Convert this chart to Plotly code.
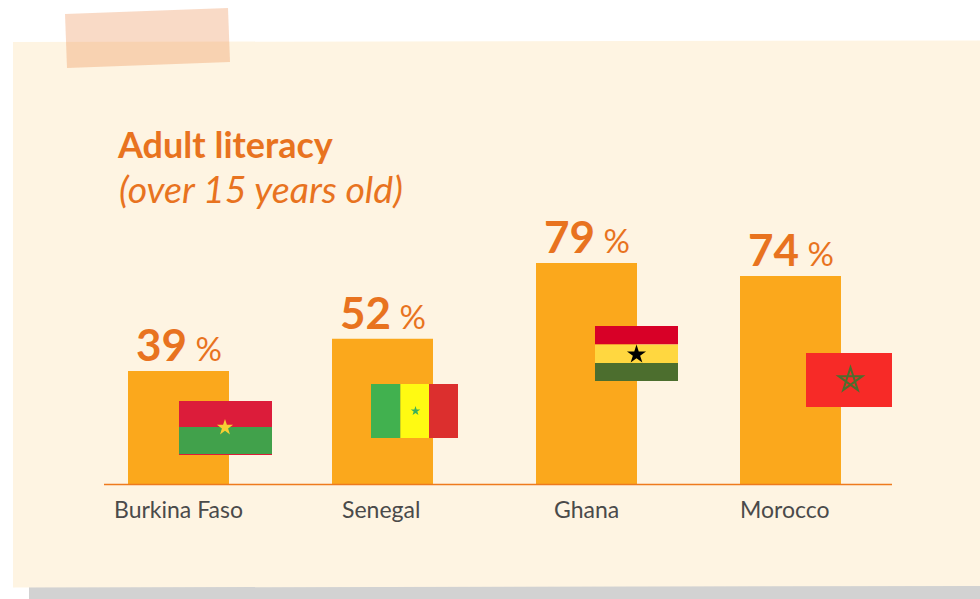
import math
import plotly.graph_objects as go

# ---- data ----
countries = ["Burkina Faso", "Senegal", "Ghana", "Morocco"]
printed_values = [39, 52, 79, 74]          # the numbers printed above the bars
bar_heights = [40.5, 52, 79, 74.4]         # the heights the bars are drawn at
label_shift = [0, -2, 0, -6]               # horizontal nudges of the country names

TITLE = "Adult literacy"
SUBTITLE = "(over 15 years old)"

# ---- styles ----
W, H = 980, 599
FONT = "Lato"
ORANGE = "#E8731F"
BAR = "#FBA81C"
CARD = "#FEF4E2"
SHADOW = "#D2D2D2"
TAPE = "rgba(232,122,50,0.28)"
LABEL = "#4A4A4A"

PX_PER_CAT = 204.0
X0_PX = 178.5
BASE_PX = 484.5
PX_PER_UNIT = 2.803


def fx(px):
    return px / W


def fy(py):
    return 1 - py / H


def poly(points, color, layer="below", line=None):
    path = "M " + " L ".join(f"{fx(x):.5f},{fy(y):.5f}" for x, y in points) + " Z"
    return dict(type="path", path=path, xref="paper", yref="paper", fillcolor=color,
                line=line or dict(width=0), layer=layer)


def rect(x0, y0, x1, y1, color, layer="above"):
    return poly([(x0, y0), (x1, y0), (x1, y1), (x0, y1)], color, layer)


def star(cx, cy, r, color, inner=0.382):
    pts = []
    for i in range(10):
        a = -math.pi / 2 + i * math.pi / 5
        rad = r if i % 2 == 0 else r * inner
        pts.append((cx + rad * math.cos(a), cy + rad * math.sin(a)))
    return poly(pts, color, "above")


def pentagram(cx, cy, r, color, width):
    pts = []
    for i in range(5):
        a = -math.pi / 2 + i * 4 * math.pi / 5
        pts.append((cx + r * math.cos(a), cy + r * math.sin(a)))
    path = "M " + " L ".join(f"{fx(x):.5f},{fy(y):.5f}" for x, y in pts) + " Z"
    return dict(type="path", path=path, xref="paper", yref="paper",
                fillcolor="rgba(0,0,0,0)", line=dict(color=color, width=width), layer="above")


shapes = [
    rect(29, 580, 980, 599, SHADOW, "below"),
    poly([(13, 42), (980, 40.5), (980, 586), (13, 587.5)], CARD),
    poly([(65, 14), (228, 8), (230, 62), (67, 68)], TAPE),
    # Burkina Faso flag
    rect(179, 401, 272, 455, "#DC1C3A"),
    rect(179, 427, 272, 454, "#41A14B"),
    star(225, 427.5, 8.5, "#F7CF33"),
    # Senegal flag
    rect(371, 384, 400.5, 438, "#41B14F"),
    rect(400.5, 384, 429, 438, "#FFFA12"),
    rect(429, 384, 458, 438, "#DC2F2E"),
    star(415.5, 411, 5, "#3CAF5A"),
    # Ghana flag
    rect(595, 326, 678, 344.5, "#D80027"),
    rect(595, 344.5, 678, 363, "#FFD740"),
    rect(595, 363, 678, 381, "#4C6E2E"),
    star(636.5, 354.5, 10, "#000000"),
    # Morocco flag
    rect(806, 353, 892, 407, "#F72A27"),
    pentagram(850.5, 380, 12.5, "#4C6E2E", 2),
    # baseline
    dict(type="line", xref="paper", yref="paper", x0=fx(104), x1=fx(892),
         y0=fy(BASE_PX), y1=fy(BASE_PX), line=dict(color="#EE7A1D", width=1.3), layer="above"),
]

fig = go.Figure(go.Bar(x=countries, y=bar_heights, width=101 / PX_PER_CAT,
                       marker=dict(color=BAR, line=dict(width=0)), hoverinfo="skip"))

annotations = [
    dict(text=TITLE, x=fx(115), y=fy(144), xref="paper", yref="paper", xanchor="left", yanchor="middle",
         showarrow=False, font=dict(family=FONT, size=36, color=ORANGE, weight=700)),
    dict(text=SUBTITLE, x=fx(117), y=fy(188), xref="paper", yref="paper", xanchor="left", yanchor="middle",
         showarrow=False, font=dict(family=FONT, size=37.5, color=ORANGE, style="italic")),
]
for name, printed, height, shift in zip(countries, printed_values, bar_heights, label_shift):
    annotations.append(dict(
        text=f"<b>{printed}</b><span style='font-size:33px'> %</span>",
        x=name, y=height, xref="x", yref="y", xanchor="center", yanchor="bottom", yshift=-1,
        showarrow=False, font=dict(family=FONT, size=44, color=ORANGE)))
    annotations.append(dict(
        text=name, x=name, y=fy(509), xref="x", yref="paper", xanchor="center", yanchor="middle",
        xshift=shift, showarrow=False, font=dict(family=FONT, size=23, color=LABEL)))

fig.update_layout(
    width=W, height=H, margin=dict(l=0, r=0, t=0, b=0),
    paper_bgcolor="white", plot_bgcolor="rgba(0,0,0,0)",
    showlegend=False, shapes=shapes, annotations=annotations,
    xaxis=dict(range=[-X0_PX / PX_PER_CAT, (W - X0_PX) / PX_PER_CAT], visible=False,
               categoryorder="array", categoryarray=countries, fixedrange=True),
    yaxis=dict(range=[-(H - BASE_PX) / PX_PER_UNIT, BASE_PX / PX_PER_UNIT], visible=False, fixedrange=True),
)
fig.write_html("out.html", config=dict(displayModeBar=False),
               post_script="document.body.style.margin='0';document.documentElement.style.overflow='hidden';")
